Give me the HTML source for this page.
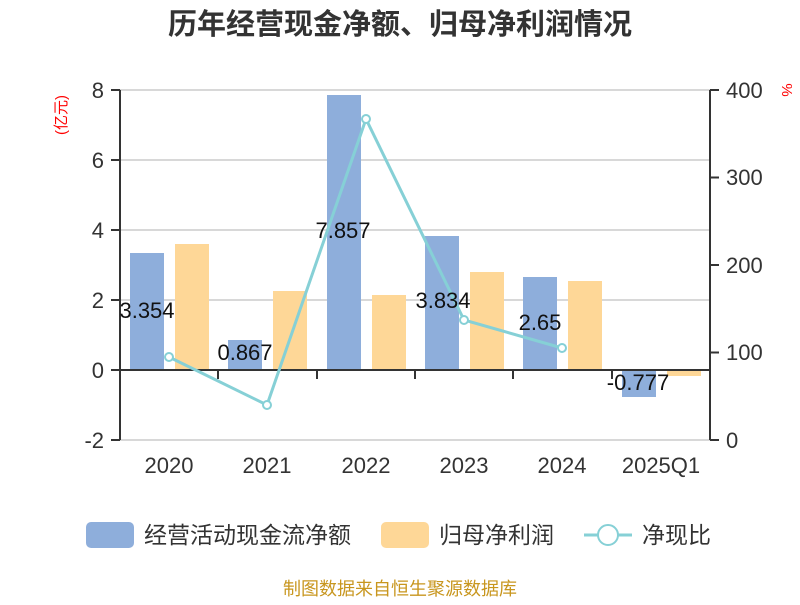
<!DOCTYPE html>
<html><head><meta charset="utf-8"><style>
body{margin:0;background:#fff}
svg text{font-family:"Liberation Sans","Noto Sans CJK SC",sans-serif}
</style></head><body>
<svg width="800" height="600" viewBox="0 0 800 600" xmlns="http://www.w3.org/2000/svg">
<rect width="800" height="600" fill="#fff"/>
<text x="400" y="34" text-anchor="middle" font-size="29" font-weight="bold" fill="#333">历年经营现金净额、归母净利润情况</text>
<g stroke="#ccc" stroke-width="1.5">
<line x1="120" y1="90" x2="710" y2="90"/><line x1="120" y1="160" x2="710" y2="160"/>
<line x1="120" y1="230" x2="710" y2="230"/><line x1="120" y1="300" x2="710" y2="300"/>
<line x1="120" y1="440" x2="710" y2="440"/>
</g>
<g fill="#8eaedb">
<rect x="130" y="253" width="34" height="117"/><rect x="228" y="340" width="34" height="30"/>
<rect x="327" y="95" width="34" height="275"/><rect x="425" y="236" width="34" height="134"/>
<rect x="523" y="277" width="34" height="93"/><rect x="622" y="370" width="34" height="27"/>
</g>
<g fill="#fed797">
<rect x="175" y="244" width="34" height="126"/><rect x="273" y="291" width="34" height="79"/>
<rect x="372" y="295" width="34" height="75"/><rect x="470" y="272" width="34" height="98"/>
<rect x="568" y="281" width="34" height="89"/><rect x="667" y="370" width="34" height="6"/>
</g>
<g stroke="#333" stroke-width="2" fill="none">
<line x1="120" y1="90" x2="120" y2="440"/><line x1="710" y1="90" x2="710" y2="440"/>
<line x1="120" y1="370" x2="710" y2="370"/>
<path d="M111 90H120M111 160H120M111 230H120M111 300H120M111 370H120M111 440H120"/>
<path d="M710 90H719M710 177.5H719M710 265H719M710 352.5H719M710 440H719"/>
<path d="M120 370V379M218 370V379M317 370V379M415 370V379M513 370V379M612 370V379M710 370V379"/>
</g>
<polyline points="169,357 267,405 366,119 464,320 562,348" fill="none" stroke="#86d0d6" stroke-width="3"/>
<g fill="#fff" stroke="#86d0d6" stroke-width="2">
<circle cx="169" cy="357" r="4"/><circle cx="267" cy="405" r="4"/><circle cx="366" cy="119" r="4"/><circle cx="464" cy="320" r="4"/><circle cx="562" cy="348" r="4"/>
</g>
<g font-size="22" fill="#333" text-anchor="end">
<text x="104" y="98">8</text><text x="104" y="168">6</text><text x="104" y="238">4</text>
<text x="104" y="308">2</text><text x="104" y="378">0</text><text x="104" y="448">-2</text>
</g>
<g font-size="22" fill="#333">
<text x="726" y="98">400</text><text x="726" y="185">300</text><text x="726" y="273">200</text>
<text x="726" y="360">100</text><text x="726" y="448">0</text>
</g>
<g font-size="22" fill="#333" text-anchor="middle">
<text x="169" y="473">2020</text><text x="267" y="473">2021</text><text x="366" y="473">2022</text>
<text x="464" y="473">2023</text><text x="562" y="473">2024</text><text x="661" y="473">2025Q1</text>
</g>
<g font-size="22" fill="#111" text-anchor="middle">
<text x="147" y="318">3.354</text><text x="245" y="360">0.867</text><text x="343" y="238">7.857</text>
<text x="443" y="308">3.834</text><text x="540" y="330">2.65</text><text x="638" y="390">-0.777</text>
</g>
<text transform="translate(66,115) rotate(-90)" font-size="15" fill="red" text-anchor="middle">(亿元)</text>
<text transform="translate(782,90) rotate(90)" font-size="15" fill="red" text-anchor="middle">%</text>
<rect x="86" y="522" width="48" height="26" rx="5" fill="#8eaedb"/>
<text x="144" y="543" font-size="23" fill="#333">经营活动现金流净额</text>
<rect x="381" y="522" width="48" height="26" rx="5" fill="#fed797"/>
<text x="439" y="543" font-size="23" fill="#333">归母净利润</text>
<line x1="584" y1="535" x2="632" y2="535" stroke="#86d0d6" stroke-width="3"/>
<circle cx="608" cy="535" r="10" fill="#fff" stroke="#86d0d6" stroke-width="2"/>
<text x="642" y="543" font-size="23" fill="#333">净现比</text>
<text x="400" y="595" text-anchor="middle" font-size="18" fill="#c8961e">制图数据来自恒生聚源数据库</text>
</svg>
</body></html>
